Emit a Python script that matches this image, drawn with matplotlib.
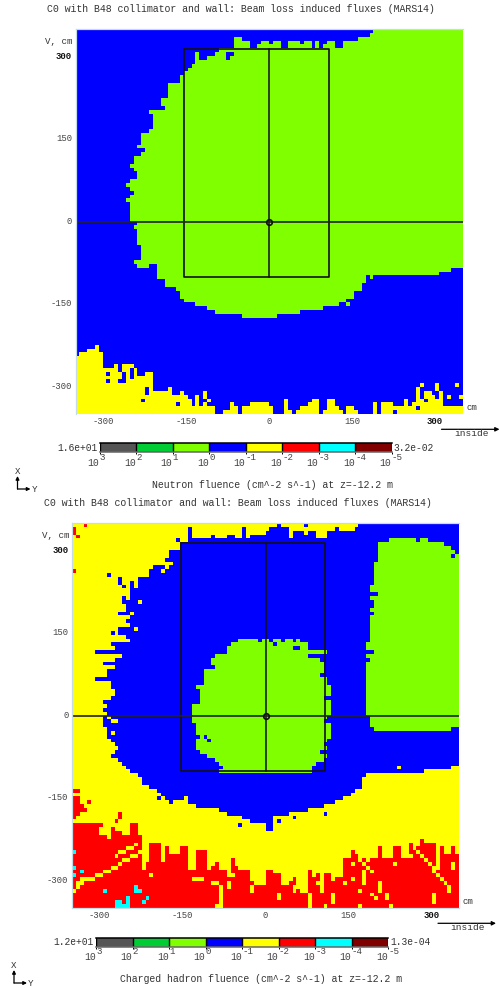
import numpy as np
import matplotlib
matplotlib.use('Agg')
import matplotlib.pyplot as plt
from matplotlib.colors import ListedColormap, BoundaryNorm
from matplotlib.transforms import ScaledTranslation

W, H = 499, 988
plt.rcParams['font.family'] = ['Liberation Mono', 'DejaVu Sans Mono']

# colour levels of the fluence scale
colors = ['#555555', '#00cc33', '#80ff00', '#0000ff', '#ffff00', '#ff0000', '#00ffff', '#800000']
GREEN, BLUE, YELLOW, RED, CYAN = 2, 3, 4, 5, 6
exponents = [3, 2, 1, 0, -1, -2, -3, -4, -5]

title = 'C0 with B48 collimator and wall: Beam loss induced fluxes (MARS14)'
caption_n = 'Neutron fluence (cm^-2 s^-1) at z=-12.2 m'
caption_h = 'Charged hadron fluence (cm^-2 s^-1) at z=-12.2 m'
ends_n = ['1.6e+01', '3.2e-02']
ends_h = ['1.2e+01', '1.3e-04']

# neutron panel, read per row (r0 at the top) / per column
n_green_left = [77, 76, 73, 41, 41, 37, 36, 34, 31, 30, 29, 28, 27, 27, 24, 24, 24, 24, 22, 22,
                23, 20, 20, 20, 20, 20, 19, 17, 17, 17, 17, 18, 17, 15, 15, 14, 15, 16, 16, 14,
                13, 14, 15, 14, 13, 14, 14, 14, 14, 14, 16, 15, 16, 16, 16, 16, 17, 17, 17, 17,
                15, 16, 21, 21, 21, 23, 23, 26, 27, 27, 28, 31, 34, 36, 43]
n_green_right = [99] * 62 + [96, 93, 76, 74, 73, 73, 71, 71, 69, 67, 63, 57, 51]
n_yellow_top = [85, 84, 84, 83, 83, 82, 84, 88, 88, 88,
                87, 89, 87, 87, 87, 88, 90, 90, 89, 89,
                94, 94, 94, 94, 93, 95, 95, 94, 95, 96,
                98, 95, 97, 94, 96, 98, 100, 100, 99, 99,
                97, 98, 100, 98, 98, 97, 97, 97, 97, 97,
                98, 100, 100, 100, 96, 99, 100, 99, 98, 98,
                97, 96, 96, 100, 99, 96, 96, 98, 99, 100,
                98, 98, 99, 100, 100, 100, 100, 97, 100, 97,
                97, 97, 98, 98, 98, 96, 98, 97, 93, 92,
                94, 94, 95, 92, 94, 98, 95, 98, 92, 95]
n_green_spots = [(2, 41), (2, 42), (21, 19), (30, 16), (7, 31), (71, 70), (6, 31)]
n_blue_spots = [(3, 45), (3, 46), (3, 47), (3, 50), (3, 53), (3, 54), (3, 58), (3, 61), (3, 63), (3, 64),
                (3, 67), (3, 68), (4, 45), (4, 46), (4, 53), (4, 54), (4, 61), (4, 63), (4, 67), (4, 68),
                (6, 39), (6, 40), (7, 39), (7, 33), (61, 19), (61, 20), (64, 75),
                (89, 8), (91, 8), (89, 12), (90, 12), (91, 11), (91, 12), (88, 14), (89, 14), (90, 14),
                (96, 17), (93, 18), (94, 18), (97, 26), (96, 33), (97, 32), (97, 34),
                (93, 89), (94, 89), (95, 89), (96, 90), (94, 93), (95, 93), (93, 98), (94, 98),
                (95, 98), (96, 98), (97, 98), (96, 96), (97, 96), (98, 88), (99, 82), (96, 99), (97, 99)]

# charged hadron panel
h_blue_left = [31, 30, 30, 30, 30, 28, 28, 25, 25, 24, 25, 21, 20, 20, 17, 17, 17, 16, 15, 15,
               13, 14, 14, 12, 15, 14, 15, 12, 12, 14, 15, 10, 11, 6, 13, 11, 8, 11, 9, 9,
               6, 10, 10, 11, 11, 10, 8, 9, 8, 9, 8, 8, 8, 9, 9, 9, 10, 11, 12, 11,
               10, 12, 13, 14, 15, 17, 18, 18, 20, 22, 23, 24, 30, 32, 38, 40, 44, 46, 50, 50]
h_blue_right = [99] * 63 + [97, 90, 75, 74, 74, 74, 72, 71, 69, 67, 64, 60, 55, 51, 51, 51, 51]
strip_start = 30
h_yellow_strip = [1, 4, 4, 4, 4, 4, 3, 4, 4, 4, 3, 3, 4, 4, 1, 4, 3, 3, 3, 3, 2, 1, 1, 0, 1, 1,
                  4, 2, 2, 2, 3, 2, 2, 4, 4, 4, 2, 2, 1, 2, 2, 2, 2, 1]
box_first_row = 30
h_box_left = [43, 41, 40, 40, 37, 36, 36, 37, 34, 34, 34, 34, 32, 33, 33, 33, 33, 31, 31, 31,
              31, 31, 32, 32, 32, 33, 32, 32, 32, 33, 35, 37, 38, 39, 38]
h_box_right = [58, 60, 60, 65, 61, 63, 64, 64, 64, 63, 65, 65, 66, 66, 66, 65, 66, 66, 66, 66,
               65, 65, 66, 66, 66, 66, 65, 64, 65, 63, 65, 64, 62, 61, 61]
side_first_row = 4
h_side_left = [82, 79, 79, 79, 79, 79, 78, 78, 78, 78, 78, 78, 77, 77, 78, 77, 78, 78, 77, 78,
               77, 77, 77, 77, 77, 77, 77, 76, 76, 77, 76, 77, 76, 76, 76, 76, 76, 76, 76, 76,
               76, 76, 76, 76, 76, 76, 77, 77, 77, 78]
h_side_right = [91, 95, 97] + [99] * 46 + [97]
h_red_top = [78, 78, 78, 78, 78, 78, 79, 81, 81, 82,
             79, 80, 80, 81, 81, 79, 80, 81, 87, 88,
             83, 83, 83, 88, 84, 86, 86, 86, 84, 84,
             90, 90, 85, 85, 85, 90, 89, 88, 90, 90,
             92, 87, 89, 90, 90, 90, 93, 94, 94, 94,
             90, 90, 91, 91, 94, 94, 93, 92, 95, 96,
             96, 90, 92, 91, 96, 91, 91, 93, 92, 92,
             87, 87, 85, 86, 87, 87, 88, 87, 87, 84,
             87, 87, 87, 84, 84, 87, 87, 83, 84, 84,
             82, 83, 83, 83, 90, 84, 86, 86, 84, 86]
h_blue_spots = [(4, 27), (0, 60), (13, 9), (14, 12), (15, 12), (16, 13), (15, 15), (16, 15), (17, 15),
                (19, 13), (28, 10), (36, 34) , (65, 38), (71, 22), (72, 25), (78, 43), (77, 53), (76, 57), (75, 65)]
h_blue_yellow = [(20, 17), (23, 15), (27, 16), (50, 9), (51, 10), (51, 11), (54, 10), (11, 24), (12, 23), (10, 25),
                 (71, 29), (69, 74), (63, 84)]
h_blue_on_green = [(7, 99), (8, 98), (4, 89), (30, 48), (30, 51), (30, 54), (30, 57), (31, 52), (32, 58), (32, 57),
                   (34, 61), (34, 62), (18, 78), (33, 77), (55, 34), (56, 35), (45, 65), (51, 65), (57, 65)]
h_red_spots = [(1, 0), (2, 0), (3, 1), (0, 3), (12, 0), (69, 0), (69, 1), (71, 0), (71, 1), (72, 0), (72, 1),
               (73, 0), (73, 1), (73, 2), (74, 0), (74, 1), (74, 2), (74, 3), (75, 0), (75, 1), (76, 0),
               (72, 4), (77, 11), (75, 12), (76, 12), (78, 6), (78, 7), (78, 15), (78, 16), (79, 16)]
h_yellow_spots = [(83, 16), (84, 15), (84, 14), (85, 13), (85, 12), (86, 11),
                  (85, 18), (85, 17), (86, 16), (86, 15), (87, 14), (87, 13), (88, 12), (89, 11), (89, 10),
                  (90, 9), (90, 8), (91, 7), (91, 6), (92, 5), (92, 4), (87, 18), (88, 18), (89, 18),
                  (91, 20), (92, 2), (93, 2), (92, 3), (93, 1), (94, 1), (95, 0),
                  (92, 31), (92, 32), (92, 33), (93, 36), (93, 37), (94, 38), (95, 38), (96, 38), (97, 38),
                  (98, 38), (99, 38), (99, 37), (93, 40), (94, 40), (91, 41), (96, 53), (97, 53),
                  (94, 46), (95, 46), (94, 57), (95, 57), (93, 59), (96, 61), (97, 61), (98, 61), (99, 61),
                  (93, 63), (96, 67), (97, 67), (98, 67), (99, 65), (93, 70), (90, 75), (91, 75), (92, 75), (93, 75),
                  (95, 74), (99, 74), (96, 77), (97, 78), (93, 79), (94, 79), (95, 79), (96, 81), (97, 81), (99, 82),
                  (88, 83), (86, 87), (84, 88), (85, 89), (86, 90), (87, 91), (88, 92), (89, 93), (90, 93),
                  (91, 94), (92, 95), (93, 96), (94, 97), (95, 97), (96, 93), (97, 93), (98, 93),
                  (88, 98), (89, 98), (88, 75), (87, 74), (89, 76), (92, 72), (90, 77), (88, 72)]
h_cyan_spots = [(85, 0), (89, 0), (91, 0), (90, 2), (95, 8), (94, 16), (95, 16), (95, 17), (97, 19), (98, 18),
                (98, 11), (99, 11), (98, 12), (99, 12), (99, 13), (97, 14), (98, 14), (99, 14)]


def neutron_grid():
    grid = np.full((100, 100), BLUE)
    for r, (a, b) in enumerate(zip(n_green_left, n_green_right)):
        grid[r, a:b + 1] = GREEN
    for c, top in enumerate(n_yellow_top):
        grid[top:, c] = YELLOW
    for r, c in n_green_spots:
        grid[r, c] = GREEN
    for r, c in n_blue_spots:
        grid[r, c] = BLUE
    return grid


def hadron_grid():
    grid = np.full((100, 100), YELLOW)
    for r, (a, b) in enumerate(zip(h_blue_left, h_blue_right)):
        grid[r, a:b + 1] = BLUE
    for i, n in enumerate(h_yellow_strip):
        grid[:n, strip_start + i] = YELLOW
    for i, (a, b) in enumerate(zip(h_box_left, h_box_right)):
        grid[box_first_row + i, a:b + 1] = GREEN
    for i, (a, b) in enumerate(zip(h_side_left, h_side_right)):
        grid[side_first_row + i, a:b + 1] = GREEN
    for r, c in h_blue_spots + h_blue_on_green:
        grid[r, c] = BLUE
    for r, c in h_blue_yellow:
        grid[r, c] = YELLOW
    for c, top in enumerate(h_red_top):
        grid[top:, c] = RED
    for r, c in h_red_spots:
        grid[r, c] = RED
    for r, c in h_yellow_spots:
        grid[r, c] = YELLOW
    for r, c in h_cyan_spots:
        grid[r, c] = CYAN
    return grid


fig = plt.figure(figsize=(W / 100, H / 100), dpi=100)
cmap = ListedColormap(colors)
norm = BoundaryNorm(np.arange(-0.5, 8.5), cmap.N)
ink = '#333333'


def axes_px(x0, y0, x1, y1):
    return fig.add_axes([x0 / W, 1 - y1 / H, (x1 - x0) / W, (y1 - y0) / H])


def label(x, y, s, **kw):
    kw.setdefault('fontsize', 7.1)
    kw.setdefault('color', ink)
    kw.setdefault('ha', 'center')
    kw.setdefault('va', 'center')
    fig.text(x / W, 1 - y / H, s, **kw)


def panel(grid, x0, y0, caption, cap_x, ends, bottom_spine):
    ax = axes_px(x0, y0, x0 + 387, y0 + 385)
    edges = np.linspace(-350, 350, 101)
    ax.pcolormesh(edges, edges[::-1], grid, cmap=cmap, norm=norm, rasterized=True)
    ax.set_xlim(-350, 350)
    ax.set_ylim(-350, 350)
    for name, sp in ax.spines.items():
        sp.set_color('#c5dbe8')
        sp.set_linewidth(0.9)
        sp.set_visible(name in ('left', 'top') or (name == 'bottom' and bottom_spine))
    ax.plot([-153, 108, 108, -153, -153], [314, 314, -100, -100, 314], color='#111111', lw=1.2)
    ax.plot([0, 0], [-100, 314], color='#111111', lw=1.1)
    ax.plot([-350, 350], [0, 0], color='#222222', lw=1.2)
    ax.plot([0], [0], 'o', ms=4, mfc='none', mec='#111111', mew=1.2)
    ticks = [-300, -150, 0, 150, 300]
    ax.set_xticks(ticks)
    ax.set_yticks(ticks)
    ax.tick_params(length=0, labelsize=6.4, labelcolor='#444444', pad=2.5)
    ax.set_xticklabels([str(t) for t in ticks])
    ax.set_yticklabels([str(t) for t in ticks])
    # row labels sit a pixel above their value in the original
    up = ScaledTranslation(0, 1.3 / 100, fig.dpi_scale_trans)
    for t in ax.get_yticklabels():
        t.set_transform(t.get_transform() + up)
    ax.get_xticklabels()[-1].set_fontweight('bold')
    ax.get_yticklabels()[-1].set_fontweight('bold')
    ax.get_xticklabels()[-1].set_color('#111111')
    ax.get_yticklabels()[-1].set_color('#111111')

    label(x0 + 165.5, y0 - 20, title)
    label(x0 - 3, y0 + 12, 'V, cm', ha='right', fontsize=6.6)
    label(x0 + 396, y0 + 378, 'cm', fontsize=6.4)
    label(x0 + 396, y0 + 404, 'inside', fontsize=6.8)
    fig.add_artist(plt.Annotation('', xy=((x0 + 424) / W, 1 - (y0 + 400.3) / H),
                                  xytext=((x0 + 366) / W, 1 - (y0 + 400.3) / H),
                                  xycoords='figure fraction', textcoords='figure fraction',
                                  arrowprops=dict(arrowstyle='-|>', color='black', lw=0.9,
                                                  mutation_scale=6, shrinkA=0, shrinkB=0)))

    bar = axes_px(x0 + 24, y0 + 414.5, x0 + 316.2, y0 + 423.5)
    bar.pcolormesh(np.array(exponents), [0, 1], np.arange(8).reshape(1, 8), cmap=cmap, norm=norm)
    bar.set_xlim(3, -5)
    bar.set_yticks([])
    for e in exponents:
        bar.plot([e, e], [0, 1], color='black', lw=1.0)
    for name, sp in bar.spines.items():
        sp.set_visible(name in ('top', 'bottom'))
        sp.set_color('black' if name == 'top' else '#666666')
        sp.set_linewidth(1.1)
    bar.set_xticks(exponents)
    bar.set_xticklabels([])
    bar.tick_params(length=1.5, width=0.7, color='black')
    # power labels: the 10 ends at the tick, the exponent starts there
    for e in exponents:
        bar.annotate('10', xy=(e, 0), xycoords=('data', 'axes fraction'), xytext=(-0.3, -7.7),
                     textcoords='offset points', ha='right', va='center', fontsize=7.0, color='#444444')
        bar.annotate(str(e), xy=(e, 0), xycoords=('data', 'axes fraction'), xytext=(0.2, -3.6),
                     textcoords='offset points', ha='left', va='center', fontsize=6.6, color='#444444')
    label(x0 + 22, y0 + 419, ends[0], ha='right', fontsize=6.9)
    label(x0 + 318, y0 + 419, ends[1], ha='left', fontsize=6.9)
    label(cap_x, y0 + 456, caption)

    # X / Y orientation mark
    ox, oy = x0 - 58, y0 + 460
    for tx, ty in [(ox, oy - 13), (ox + 13, oy)]:
        fig.add_artist(plt.Annotation('', xy=(tx / W, 1 - ty / H), xytext=(ox / W, 1 - oy / H),
                                      xycoords='figure fraction', textcoords='figure fraction',
                                      arrowprops=dict(arrowstyle='-|>', color='black', lw=0.9,
                                                      mutation_scale=5, shrinkA=0, shrinkB=0)))
    label(ox, oy - 18, 'X', fontsize=6.6)
    label(ox + 17, oy, 'Y', fontsize=6.6)


panel(neutron_grid(), 75.5, 29, caption_n, 272, ends_n, False)
panel(hadron_grid(), 72, 523, caption_h, 261, ends_h, True)

fig.savefig('out.png', dpi=100)
